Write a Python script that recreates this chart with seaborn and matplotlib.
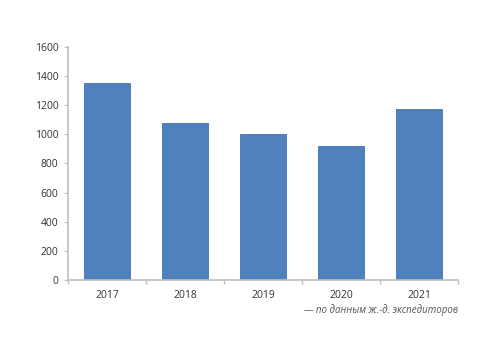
import matplotlib
matplotlib.use("Agg")
import matplotlib.pyplot as plt
import numpy as np
import pandas as pd
import seaborn as sb

years = ["2017", "2018", "2019", "2020", "2021"]
values = [1350, 1078, 1000, 918, 1172]
y_ticks = [0, 200, 400, 600, 800, 1000, 1200, 1400, 1600]
note = "— по данным ж.-д. экспедиторов"

sb.set_style("white")
plt.rcParams['font.family'] = ['Open Sans', 'DejaVu Sans']

df = pd.DataFrame({"year": years, "value": values})

fig = plt.figure(figsize=(5, 3.53), dpi=100)
ax = fig.add_axes([0.136, 0.207, 0.78, 0.66])
sb.barplot(data=df, x="year", y="value", color="#4F81BD", saturation=1,
           width=0.59, edgecolor="#3F74B6", linewidth=0.6, ax=ax)

ax.set_ylim(0, 1600)
ax.set_xlim(-0.5, len(years) - 0.5)
ax.set_yticks(y_ticks)
ax.set_yticklabels([str(t) for t in y_ticks])
ax.set_xlabel("")
ax.set_ylabel("")
for s in ["top", "right"]:
    ax.spines[s].set_visible(False)
for s in ["left", "bottom"]:
    ax.spines[s].set_color("#BFBFBF")
    ax.spines[s].set_linewidth(1.2)

ax.tick_params(axis="y", left=True, length=3, color="#BFBFBF", labelsize=7.5,
               labelcolor="#333333", pad=4)
ax.tick_params(axis="x", length=0, labelsize=7.5, labelcolor="#333333", pad=7)
ax.set_xticks(np.arange(-0.5, len(years)), minor=True)
ax.tick_params(axis="x", which="minor", bottom=True, length=3, width=1,
               color="#BFBFBF", direction="out")

fig.text(0.916, 0.121, note, ha="right", va="center", fontsize=7,
         style="italic", color="#555555")

fig.savefig("out.png", dpi=100, facecolor="white")
